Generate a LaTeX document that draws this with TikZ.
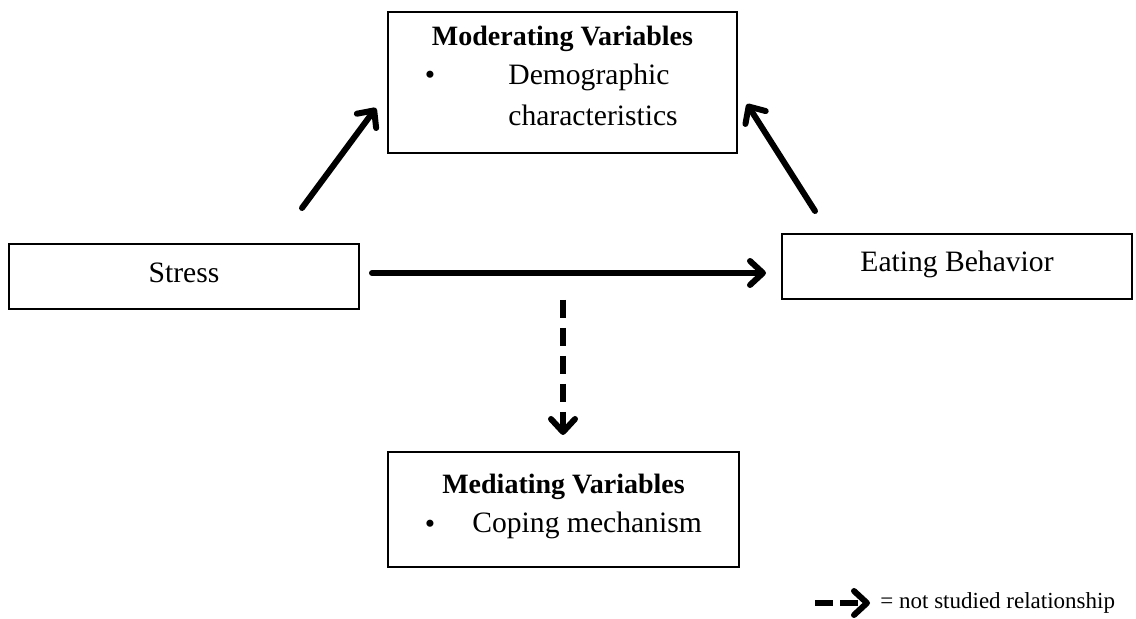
\documentclass[tikz,border=0pt]{standalone}
\usepackage{fontspec}
\setmainfont{Liberation Serif}
\usetikzlibrary{arrows.meta, positioning, calc}

\tikzset{
  box/.style={draw, line width=1pt, inner sep=0pt},
  txt/.style={font=\fontsize{14.8}{17}\selectfont, inner sep=0pt},
  ttl/.style={font=\fontsize{14}{17}\selectfont\bfseries, inner sep=0pt},
  relarrow/.style={line width=3pt, line cap=round,
    -{Straight Barb[length=6.5pt,width=12pt,line cap=round,line join=round]}},
  notstudied/.style={relarrow, line cap=butt, dash pattern=on 9pt off 5pt}
}

\begin{document}
\begin{tikzpicture}[x=0.5pt,y=-0.5pt]
\useasboundingbox (0,0) rectangle (1136,619);

% --- Riquadri
\node[box, minimum width=175pt, minimum height=32.5pt] (stress) at (184,276.5) {};
\node[box, minimum width=175pt, minimum height=32.5pt] (eating) at (957,266.5) {};
\node[box, minimum width=174.5pt, minimum height=70.5pt] (moder) at (562.5,82.5) {};
\node[box, minimum width=175.5pt, minimum height=57.5pt] (medi) at (563.5,509.5) {};

% --- Testi
\node[txt] (stresstxt) at (184,273) {Stress};
\node[txt] (eatingtxt) at (957,264) {Eating Behavior};

\node[ttl] (modertitle) at (562.5,39) {Moderating Variables};
\node[txt] (moderbul) at (430,78) {\textbullet};
\node[txt, anchor=west] (moderdemo) at (508,77) {Demographic};
\node[txt, anchor=west] (moderchar) at (508,115) {characteristics};

\node[ttl] (medititle) at (563.5,487) {Mediating Variables};
\node[txt] (medibul) at (430,527) {\textbullet};
\node[txt, anchor=west] (medicope) at (472,525) {Coping mechanism};

% --- Frecce
\coordinate (a1s) at (302,208);
\coordinate (a1e) at (376,108);
\coordinate (a2s) at (815,211);
\coordinate (a2e) at (747,104);
\coordinate (hs) at (372,273);
\coordinate (he) at (766,273);
\coordinate (ds) at (563,300);
\coordinate (de) at (563,435);

\draw[relarrow] (a1s) -- (a1e);
\draw[relarrow] (a2s) -- (a2e);
\draw[relarrow] (hs) -- (he);
\draw[notstudied] (ds) -- (de);

% --- Legenda
\coordinate (legs) at (815,603);
\coordinate (lege) at (870,603);
\draw[notstudied, dash pattern=on 9pt off 3.5pt] (legs) -- (lege);
\node[txt, font=\fontsize{11.5}{14}\selectfont, anchor=west] (legtxt) at (880,603) {= not studied relationship};

\end{tikzpicture}
\end{document}
